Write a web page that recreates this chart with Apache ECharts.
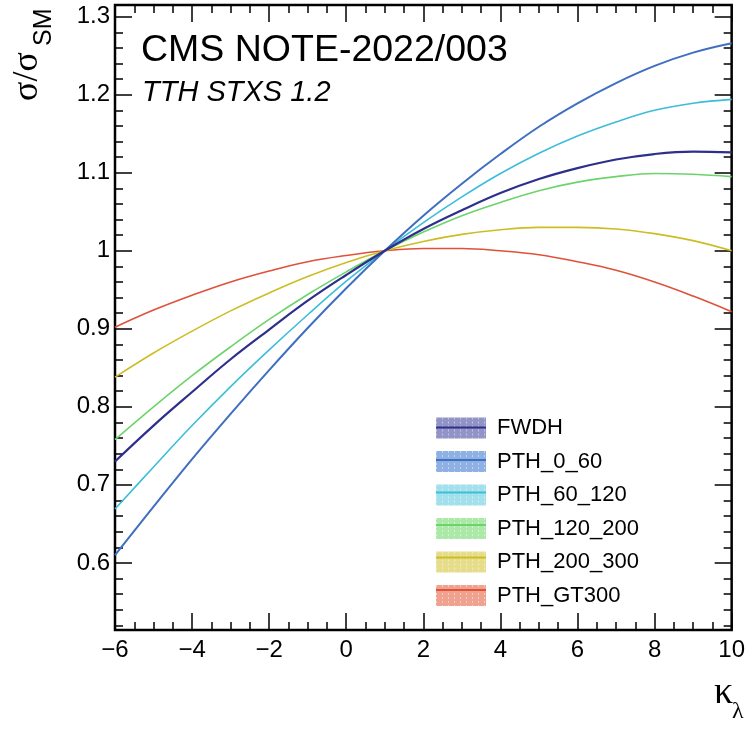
<!DOCTYPE html>
<html>
<head>
<meta charset="utf-8">
<script src="https://cdn.jsdelivr.net/npm/echarts@6/dist/echarts.min.js"></script>
<style>
  html, body { margin: 0; padding: 0; background: #ffffff; }
  #chart { width: 748px; height: 731px; }
</style>
</head>
<body>
<div id="chart"></div>
<script>
// kappa_lambda scan points
const kappa = [-6, -5, -4, -3, -2, -1, 0, 1, 2, 3, 4, 5, 6, 7, 8, 9, 10];

// sigma / sigma_SM for each STXS bin
const fwdh      = [0.730, 0.776, 0.819, 0.861, 0.899, 0.936, 0.969, 1.000, 1.028, 1.052, 1.074, 1.092, 1.106, 1.117, 1.124, 1.127, 1.126];
const pth0_60   = [0.610, 0.672, 0.733, 0.791, 0.847, 0.901, 0.952, 1.000, 1.045, 1.086, 1.124, 1.159, 1.189, 1.215, 1.237, 1.254, 1.266];
const pth60_120 = [0.669, 0.723, 0.776, 0.826, 0.873, 0.918, 0.961, 1.000, 1.036, 1.069, 1.099, 1.125, 1.147, 1.165, 1.180, 1.189, 1.194];
const pth120_200= [0.758, 0.800, 0.840, 0.877, 0.912, 0.944, 0.973, 1.000, 1.024, 1.045, 1.062, 1.077, 1.088, 1.095, 1.099, 1.098, 1.095];
const pth200_300= [0.838, 0.869, 0.897, 0.923, 0.946, 0.967, 0.985, 1.000, 1.012, 1.021, 1.027, 1.030, 1.030, 1.028, 1.022, 1.013, 1.000];
const pthGT300  = [0.902, 0.924, 0.943, 0.960, 0.974, 0.986, 0.994, 1.000, 1.003, 1.003, 1.000, 0.995, 0.986, 0.975, 0.960, 0.942, 0.922];

const binNames = ['FWDH', 'PTH_0_60', 'PTH_60_120', 'PTH_120_200', 'PTH_200_300', 'PTH_GT300'];
const binValues = [fwdh, pth0_60, pth60_120, pth120_200, pth200_300, pthGT300];

// axis ticks
const yMajorTicks = [0.6, 0.7, 0.8, 0.9, 1.0, 1.1, 1.2, 1.3];
const yMinorTicks = [0.52, 0.54, 0.56, 0.58, 0.62, 0.64, 0.66, 0.68, 0.72, 0.74, 0.76, 0.78,
                     0.82, 0.84, 0.86, 0.88, 0.92, 0.94, 0.96, 0.98, 1.02, 1.04, 1.06, 1.08,
                     1.12, 1.14, 1.16, 1.18, 1.22, 1.24, 1.26, 1.28];

// styles
const lineColors   = ['#2e2f8c', '#3f6fc0', '#3cbdd9', '#6dd46b', '#cdbd22', '#e0513a'];
const swatchColors = ['#9293c6', '#8fb0e2', '#a2e0ec', '#ace8a8', '#e6dd8c', '#f0a291'];
const lineWidths   = [2.2, 2.0, 1.6, 1.6, 1.6, 1.6];

const SANS = '"Liberation Sans", Arial, Helvetica, sans-serif';
const SERIF = '"Liberation Serif", "DejaVu Serif", serif';

const xMin = -6, xMax = 10;
const yMin = 0.514, yMax = 1.315;

const legendLeft = 436, legendTop = 417, swatchW = 50, swatchH = 21, rowGap = 11.5;

const chart = echarts.init(document.getElementById('chart'), null, { renderer: 'canvas' });

const tickStyle = { color: '#000', width: 1.5 };
const minus = v => (v < 0 ? '\u2212' + Math.abs(v) : String(v));

function yAxisDef(position, ticks, len, withLabels) {
  return {
    type: 'value', position: position, min: yMin, max: yMax,
    axisLine: { show: false, onZero: false },
    splitLine: { show: false },
    axisTick: { show: true, inside: true, length: len, lineStyle: tickStyle, customValues: ticks },
    axisLabel: withLabels
      ? { show: true, customValues: ticks, margin: 5, fontFamily: SANS, fontSize: 24, color: '#000',
          formatter: v => String(Math.round(v * 10) / 10) }
      : { show: false }
  };
}

function xAxisDef(position, withLabels) {
  return {
    type: 'value', position: position, min: xMin, max: xMax, interval: 2,
    axisLine: { show: false, onZero: false },
    splitLine: { show: false },
    axisTick: { show: true, inside: true, length: 17, lineStyle: tickStyle },
    minorTick: { show: true, splitNumber: 4, length: 8, lineStyle: tickStyle },
    axisLabel: withLabels
      ? { show: true, margin: 8, fontFamily: SANS, fontSize: 24, color: '#000', formatter: minus }
      : { show: false }
  };
}

const series = binNames.map((name, i) => ({
  name: name,
  type: 'line',
  xAxisIndex: 0,
  yAxisIndex: 0,
  smooth: 0.4,
  showSymbol: false,
  symbol: 'none',
  data: kappa.map((k, j) => [k, binValues[i][j]]),
  lineStyle: { color: lineColors[i], width: lineWidths[i] },
  itemStyle: { color: lineColors[i] },
  z: 3 + (binNames.length - i),
  silent: true
}));

// central line drawn across each legend swatch
const legendLines = binNames.map((name, i) => {
  const y = legendTop + swatchH / 2 + i * (swatchH + rowGap);
  return {
    type: 'line',
    shape: { x1: legendLeft, y1: y, x2: legendLeft + swatchW, y2: y },
    style: { stroke: lineColors[i], lineWidth: 2 },
    z: 100
  };
});

const option = {
  animation: false,
  backgroundColor: '#ffffff',
  grid: { left: 115, right: 14, top: 5, bottom: 101, show: true, borderColor: '#000', borderWidth: 2.5, backgroundColor: 'transparent' },
  xAxis: [xAxisDef('bottom', true), xAxisDef('top', false)],
  yAxis: [
    yAxisDef('left', yMajorTicks, 17, true),
    yAxisDef('left', yMinorTicks, 8, false),
    yAxisDef('right', yMajorTicks, 17, false),
    yAxisDef('right', yMinorTicks, 8, false)
  ],
  legend: {
    show: true,
    orient: 'vertical',
    left: legendLeft,
    top: legendTop,
    padding: 0,
    itemWidth: swatchW,
    itemHeight: swatchH,
    itemGap: rowGap,
    icon: 'rect',
    selectedMode: false,
    textStyle: { fontFamily: SANS, fontSize: 22, color: '#000', lineHeight: 21, padding: [0, 0, 0, 6] },
    data: binNames.map((name, i) => ({
      name: name,
      itemStyle: {
        color: swatchColors[i],
        decal: { symbol: 'rect', symbolSize: 1, color: 'rgba(255,255,255,0.45)', dashArrayX: [[1, 5]], dashArrayY: [2, 2] }
      }
    }))
  },
  series: series,
  graphic: [
    {
      type: 'text', left: 141, top: 32,
      style: { text: 'CMS NOTE-2022/003', fontFamily: SANS, fontSize: 37.5, fill: '#000' }
    },
    {
      type: 'text', left: 142, top: 78,
      style: { text: 'TTH STXS 1.2', fontFamily: SANS, fontSize: 29, fontStyle: 'italic', fill: '#000' }
    },
    // y axis title: sigma / sigma_SM, rotated
    {
      type: 'text', x: 46, y: 101, rotation: Math.PI / 2,
      style: { text: 'σ/σ', fontFamily: SERIF, fontSize: 36, fill: '#000', align: 'left', verticalAlign: 'bottom' }
    },
    {
      type: 'text', x: 57, y: 46, rotation: Math.PI / 2,
      style: { text: 'SM', fontFamily: SANS, fontSize: 25, fill: '#000', align: 'left', verticalAlign: 'bottom' }
    },
    // x axis title: kappa_lambda
    {
      type: 'text', x: 714, y: 712,
      style: { text: 'κ', fontFamily: SERIF, fontSize: 38, fill: '#000', align: 'left', verticalAlign: 'bottom' }
    },
    {
      type: 'text', x: 732, y: 724,
      style: { text: 'λ', fontFamily: SERIF, fontSize: 24, fill: '#000', align: 'left', verticalAlign: 'bottom' }
    }
  ].concat(legendLines)
};

chart.setOption(option);
</script>
</body>
</html>
